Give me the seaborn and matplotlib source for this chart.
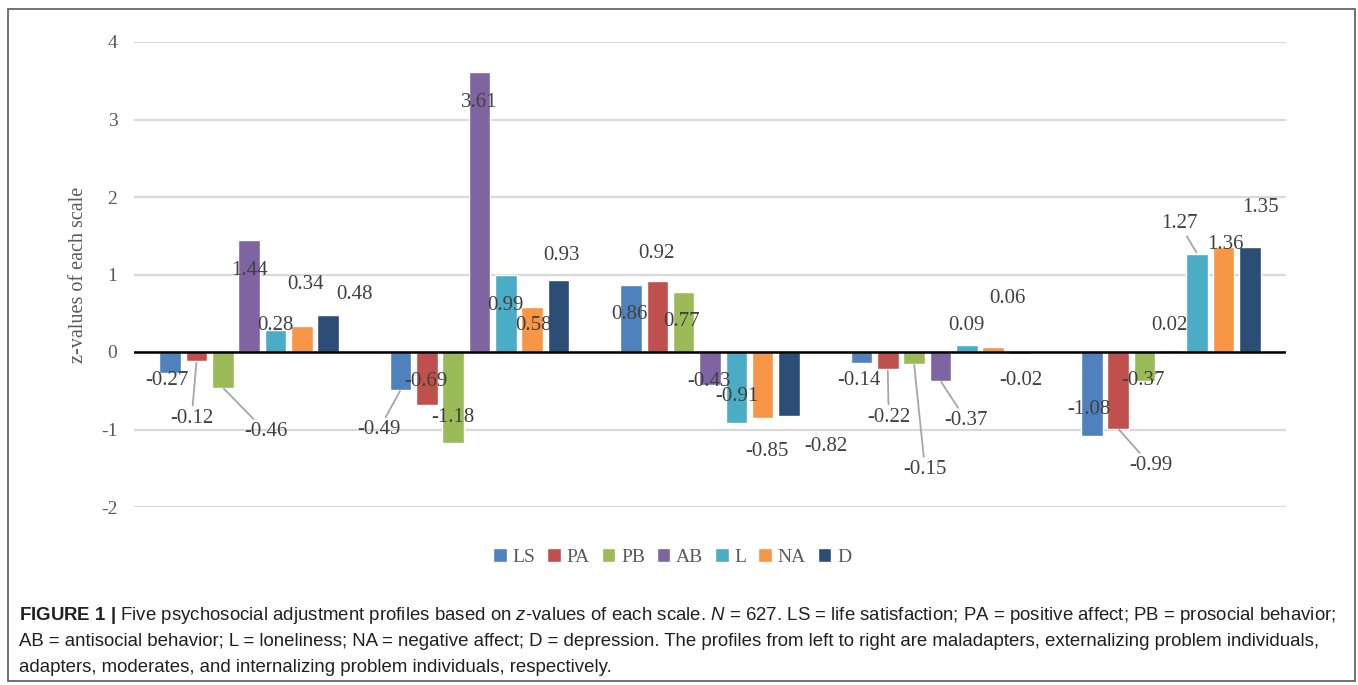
import numpy as np
import pandas as pd
import seaborn as sns
import matplotlib.pyplot as plt
from matplotlib.patches import Rectangle

# =============================================================================
# Data (z-values)
# =============================================================================
PROFILES = ["Maladapters", "Externalizing problem individuals", "Adapters",
            "Moderates", "Internalizing problem individuals"]
SCALES = ["LS", "PA", "PB", "AB", "L", "NA", "D"]

LS = [-0.27, -0.49, 0.86, -0.14, -1.08]
PA = [-0.12, -0.69, 0.92, -0.22, -0.99]
PB = [-0.46, -1.18, 0.77, -0.15, -0.37]
AB = [1.44, 3.61, -0.43, -0.37, 0.02]
L = [0.28, 0.99, -0.91, 0.09, 1.27]
NA = [0.34, 0.58, -0.85, 0.06, 1.36]
D = [0.48, 0.93, -0.82, -0.02, 1.35]

COLORS = ["#4F81BD", "#C0504D", "#9BBB59", "#8064A2", "#4BACC6", "#F79646", "#2C4D75"]

# Excel-style data label placement: pixel offsets from the bar end
LABEL_OFFSETS = {
    "LS": [(-3, -8), (-22, -40), (-2, -29), (-2, -18), (-3, 26)],
    "PA": [(-5, -57), (-1, 24), (-1, 27), (1, -48), (33, -37)],
    "PB": [(43, -44), (0, 26), (-2, -29), (11, -106), (-1, 0)],
    "AB": [(0, -30), (0, -30), (-1, 4), (26, -40), (-1, 25)],
    "L": [(0, 5), (0, -30), (1, 26), (0, 20), (-18, 30)],
    "NA": [(4, 41), (1, -18), (4, -34), (14, 49), (2, 2)],
    "D": [(26, 20), (3, 24), (37, -31), (1, -27), (11, 40)],
}
# labels that get a grey leader line (scale, profile index)
LEADERS = {("PA", 0), ("PB", 0), ("LS", 1), ("PA", 3), ("PB", 3),
           ("AB", 3), ("PA", 4), ("L", 4)}

CAPTION = [
    r"$\bf{FIGURE\ 1\ |}$ Five psychosocial adjustment profiles based on $\it{z}$-values of each scale. "
    r"$\it{N}$ = 627. LS = life satisfaction; PA = positive affect; PB = prosocial behavior;",
    "AB = antisocial behavior; L = loneliness; NA = negative affect; D = depression. "
    "The profiles from left to right are maladapters, externalizing problem individuals,",
    "adapters, moderates, and internalizing problem individuals, respectively.",
]

# =============================================================================
sns.set_style("white")
plt.rcParams["font.family"] = ["Liberation Serif", "DejaVu Serif"]
plt.rcParams["axes.unicode_minus"] = False
plt.rcParams["mathtext.fontset"] = "custom"
plt.rcParams["mathtext.rm"] = "Liberation Sans"
plt.rcParams["mathtext.it"] = "Liberation Sans:italic"
plt.rcParams["mathtext.bf"] = "Liberation Sans:bold"

W, H = 1358, 685
series = dict(zip(SCALES, [LS, PA, PB, AB, L, NA, D]))
df = pd.DataFrame([
    {"profile": p, "scale": s, "z": series[s][i]}
    for s in SCALES for i, p in enumerate(PROFILES)
])

fig = plt.figure(figsize=(W / 100, H / 100), dpi=100)
ax = fig.add_axes([134 / W, 1 - 507 / H, (1286 - 134) / W, (507 - 42) / H])

sns.barplot(data=df, x="profile", y="z", hue="scale", order=PROFILES,
            hue_order=SCALES, palette=COLORS, width=0.8, gap=0.18,
            saturation=1, ax=ax)

ax.set_ylim(-2, 4)
ax.set_xlim(-0.5, len(PROFILES) - 0.5)
ax.set_yticks(range(-2, 5))
ax.yaxis.grid(True, color="#d9d9d9", lw=1.6)
ax.set_axisbelow(True)
ax.axhline(0, color="black", lw=1.8, zorder=3)
for sp in ax.spines.values():
    sp.set_visible(False)
ax.tick_params(axis="x", length=0, labelbottom=False)
ax.tick_params(axis="y", length=0, pad=12, labelsize=14, labelcolor="#595959")
ax.set_xlabel("")
ax.set_ylabel("z-values of each scale", fontsize=14.5, color="#595959", labelpad=9)

# data labels
for s, cont in zip(SCALES, ax.containers):
    for i, bar in enumerate(cont):
        xc = bar.get_x() + bar.get_width() / 2
        val = series[s][i]
        dx, dy = LABEL_OFFSETS[s][i]
        kw = {}
        if (s, i) in LEADERS:
            kw["arrowprops"] = dict(arrowstyle="-", color="#a6a6a6", lw=1.3,
                                    shrinkA=0, shrinkB=1)
        ax.annotate(f"{val:.2f}", xy=(xc, val), xytext=(dx, dy),
                    textcoords="offset pixels", ha="center", va="center",
                    fontsize=15, color="#404040", zorder=5, **kw)

# legend below the plot
handles, labels = ax.get_legend_handles_labels()
ax.get_legend().remove()
fig.legend(handles, labels, loc="center", bbox_to_anchor=(0.495, 1 - 557 / H),
           ncol=7, frameon=False, handlelength=0.7, handleheight=0.7,
           handletextpad=0.3, columnspacing=0.6,
           prop={"family": "Liberation Serif", "size": 14}, labelcolor="#595959")

# caption
for k, line in enumerate(CAPTION):
    fig.text(19 / W, 1 - (616 + 26 * k) / H, line, fontsize=13.4,
             family="Liberation Sans", color="#231f20", va="center", ha="left")

# frame round the whole figure
fig.patches.append(Rectangle((8 / W, 1 - 681 / H), (1355 - 8) / W, (681 - 9) / H,
                             transform=fig.transFigure, fill=False,
                             ec="#595959", lw=1.2))

fig.savefig("out.png", dpi=100)
